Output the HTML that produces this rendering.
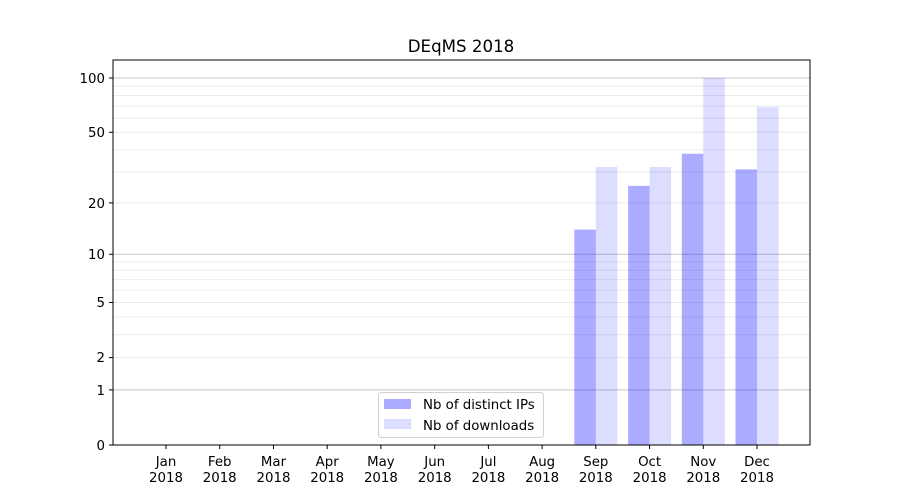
<!DOCTYPE html>
<html><head><meta charset="utf-8"><style>body{margin:0;background:#fff}svg{display:block}text{font-family:"DejaVu Sans","Liberation Sans",sans-serif;font-size:13.33px;fill:#000}</style></head><body>
<svg width="900" height="500" xmlns="http://www.w3.org/2000/svg">
<rect width="900" height="500" fill="#fff"/>
<g stroke="#ebebeb" stroke-width="1">
<line x1="113" x2="810" y1="357.6" y2="357.6"/><line x1="113" x2="810" y1="334.8" y2="334.8"/><line x1="113" x2="810" y1="317" y2="317"/><line x1="113" x2="810" y1="302.5" y2="302.5"/><line x1="113" x2="810" y1="290.3" y2="290.3"/><line x1="113" x2="810" y1="279.6" y2="279.6"/><line x1="113" x2="810" y1="270.3" y2="270.3"/><line x1="113" x2="810" y1="261.9" y2="261.9"/>
<line x1="113" x2="810" y1="202.9" y2="202.9"/><line x1="113" x2="810" y1="171.9" y2="171.9"/><line x1="113" x2="810" y1="149.7" y2="149.7"/><line x1="113" x2="810" y1="132.3" y2="132.3"/><line x1="113" x2="810" y1="118.1" y2="118.1"/><line x1="113" x2="810" y1="106" y2="106"/><line x1="113" x2="810" y1="95.5" y2="95.5"/><line x1="113" x2="810" y1="86.3" y2="86.3"/>
</g>
<g stroke="#c8c8c8" stroke-width="1">
<line x1="113" x2="810" y1="389.9" y2="389.9"/><line x1="113" x2="810" y1="254.3" y2="254.3"/><line x1="113" x2="810" y1="78" y2="78"/>
</g>
<g fill="rgba(0,0,255,0.33)">
<rect x="574.3" y="229.6" width="21.5" height="215.4"/>
<rect x="628.1" y="185.9" width="21.5" height="259.1"/>
<rect x="681.8" y="153.7" width="21.5" height="291.3"/>
<rect x="735.5" y="169.4" width="21.5" height="275.6"/>
</g>
<g fill="rgba(0,0,255,0.135)">
<rect x="595.8" y="167" width="21.5" height="278"/>
<rect x="649.6" y="167" width="21.5" height="278"/>
<rect x="703.3" y="78" width="21.5" height="367"/>
<rect x="757" y="107.1" width="21.5" height="337.9"/>
</g>
<rect x="113" y="60" width="697" height="385" fill="none" stroke="#000" stroke-width="1"/>
<g stroke="#000" stroke-width="1">
<line x1="109" x2="113" y1="445" y2="445"/><line x1="109" x2="113" y1="389.9" y2="389.9"/><line x1="109" x2="113" y1="357.6" y2="357.6"/><line x1="109" x2="113" y1="302.5" y2="302.5"/><line x1="109" x2="113" y1="254.3" y2="254.3"/><line x1="109" x2="113" y1="202.9" y2="202.9"/><line x1="109" x2="113" y1="132.3" y2="132.3"/><line x1="109" x2="113" y1="78" y2="78"/>
</g>
<g text-anchor="end">
<text x="105" y="450">0</text><text x="105" y="395">1</text><text x="105" y="362">2</text><text x="105" y="307">5</text><text x="105" y="259">10</text><text x="105" y="208">20</text><text x="105" y="137">50</text><text x="105" y="83">100</text>
</g>
<g stroke="#000" stroke-width="1">
<line x1="166" x2="166" y1="445" y2="449"/><line x1="219.7" x2="219.7" y1="445" y2="449"/><line x1="273.5" x2="273.5" y1="445" y2="449"/><line x1="327.2" x2="327.2" y1="445" y2="449"/><line x1="380.9" x2="380.9" y1="445" y2="449"/><line x1="434.7" x2="434.7" y1="445" y2="449"/><line x1="488.4" x2="488.4" y1="445" y2="449"/><line x1="542.1" x2="542.1" y1="445" y2="449"/><line x1="595.8" x2="595.8" y1="445" y2="449"/><line x1="649.6" x2="649.6" y1="445" y2="449"/><line x1="703.3" x2="703.3" y1="445" y2="449"/><line x1="757" x2="757" y1="445" y2="449"/>
</g>
<g text-anchor="middle">
<text x="166" y="466">Jan</text><text x="166" y="482">2018</text>
<text x="219.7" y="466">Feb</text><text x="219.7" y="482">2018</text>
<text x="273.5" y="466">Mar</text><text x="273.5" y="482">2018</text>
<text x="327.2" y="466">Apr</text><text x="327.2" y="482">2018</text>
<text x="380.9" y="466">May</text><text x="380.9" y="482">2018</text>
<text x="434.7" y="466">Jun</text><text x="434.7" y="482">2018</text>
<text x="488.4" y="466">Jul</text><text x="488.4" y="482">2018</text>
<text x="542.1" y="466">Aug</text><text x="542.1" y="482">2018</text>
<text x="595.8" y="466">Sep</text><text x="595.8" y="482">2018</text>
<text x="649.6" y="466">Oct</text><text x="649.6" y="482">2018</text>
<text x="703.3" y="466">Nov</text><text x="703.3" y="482">2018</text>
<text x="757" y="466">Dec</text><text x="757" y="482">2018</text>
<text x="461" y="52" style="font-size:16.67px">DEqMS 2018</text>
</g>
<rect x="378.5" y="392.5" width="165" height="45" rx="3" fill="rgba(255,255,255,0.8)" stroke="#d0d0d0"/>
<rect x="384" y="399" width="27" height="10" fill="rgba(0,0,255,0.33)"/>
<rect x="384" y="419" width="27" height="10" fill="rgba(0,0,255,0.135)"/>
<text x="423" y="409">Nb of distinct IPs</text>
<text x="423" y="430">Nb of downloads</text>
</svg>
</body></html>
